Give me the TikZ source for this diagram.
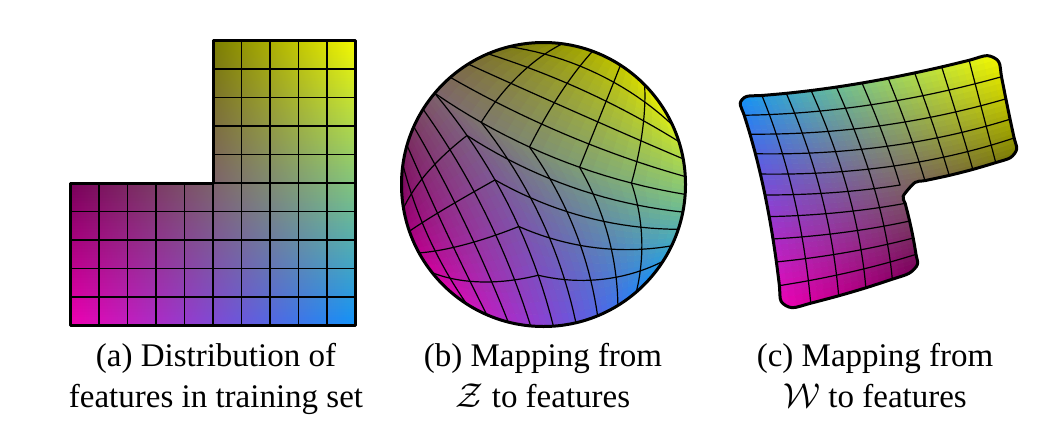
\documentclass[tikz,border=0pt]{standalone}
\usepackage{fontspec}
\setmainfont{Liberation Serif}
\tikzset{
  gridline/.style={black, line width=0.6pt, line join=round, line cap=round},
  outline/.style={black, line width=1.5pt, line join=round},
  caption/.style={font=\fontsize{16.5}{20}\selectfont, anchor=base, inner sep=0pt},
}
% colour of feature point (u,v): bilinear between corners
\newcommand\setcol[3]{%
  \pgfmathsetmacro\colU{min(max(#1,0),1)}%
  \pgfmathsetmacro\colV{min(max(#2,0),1)}%
  \pgfmathsetmacro\colR{0.94*(1-\colU)*(1-\colV)+0.06*\colU*(1-\colV)+0.96*\colU*\colV}%
  \pgfmathsetmacro\colG{0.57*\colU*(1-\colV)+0.98*\colU*\colV}%
  \pgfmathsetmacro\colB{0.70*(1-\colU)*(1-\colV)+0.98*\colU*(1-\colV)}%
  \definecolor{#3}{rgb}{\colR,\colG,\colB}%
}
% ---- disk map: three Coons patches ----
\newcommand\arcpt[3]{\pgfmathsetmacro#2{543.5+142*cos(#1)}\pgfmathsetmacro#3{184.5-142*sin(#1)}}
\newcommand\bezOne[3]{% seam P1 -> G
  \pgfmathsetmacro#2{(1-(#1))^2*553.41+2*(#1)*(1-(#1))*520.8+(#1)^2*434.72}%
  \pgfmathsetmacro#3{(1-(#1))^2*326.15+2*(#1)*(1-(#1))*196.2+(#1)^2*93.22}}
\newcommand\bezTwo[3]{% seam G -> P2
  \pgfmathsetmacro#2{(1-(#1))^2*434.72+2*(#1)*(1-(#1))*548.7+(#1)^2*685.15}%
  \pgfmathsetmacro#3{(1-(#1))^2*93.22+2*(#1)*(1-(#1))*171.6+(#1)^2*194.41}}
\newcommand\mapB[2]{%
  \ifdim #2pt>0.5pt
    \pgfmathsetmacro\kS{2*(#1)-1}\pgfmathsetmacro\kT{2*(#2)-1}%
    \bezTwo{\kS}{\bX}{\bY}%
    \arcpt{95-63*\kS}{\tX}{\tY}%
    \arcpt{140-45*\kT}{\lX}{\lY}%
    \arcpt{-4+36*\kT}{\rX}{\rY}%
    \def\pAx{434.72}\def\pAy{93.22}\def\pBx{685.15}\def\pBy{194.41}%
    \def\pCx{531.12}\def\pCy{43.04}\def\pDx{663.92}\def\pDy{109.25}%
  \else\ifdim #1pt<0.5pt
    \pgfmathsetmacro\kS{2*(#1)}\pgfmathsetmacro\kT{2*(#2)}%
    \arcpt{-132+46*\kS}{\bX}{\bY}%
    \arcpt{180-40*\kS}{\tX}{\tY}%
    \arcpt{228-48*\kT}{\lX}{\lY}%
    \bezOne{\kT}{\rX}{\rY}%
    \def\pAx{448.48}\def\pAy{290.03}\def\pBx{553.41}\def\pBy{326.15}%
    \def\pCx{401.5}\def\pCy{184.5}\def\pDx{434.72}\def\pDy{93.22}%
  \else
    \pgfmathsetmacro\kS{2*(#1)-1}\pgfmathsetmacro\kT{2*(#2)}%
    \arcpt{-86+46*\kS}{\bX}{\bY}%
    \bezTwo{\kS}{\tX}{\tY}%
    \bezOne{\kT}{\lX}{\lY}%
    \arcpt{-40+36*\kT}{\rX}{\rY}%
    \def\pAx{553.41}\def\pAy{326.15}\def\pBx{652.28}\def\pBy{275.78}%
    \def\pCx{434.72}\def\pCy{93.22}\def\pDx{685.15}\def\pDy{194.41}%
  \fi\fi
  \pgfmathsetmacro\mx{(1-\kT)*\bX+\kT*\tX+(1-\kS)*\lX+\kS*\rX-((1-\kS)*(1-\kT)*\pAx+\kS*(1-\kT)*\pBx+(1-\kS)*\kT*\pCx+\kS*\kT*\pDx)}%
  \pgfmathsetmacro\my{(1-\kT)*\bY+\kT*\tY+(1-\kS)*\lY+\kS*\rY-((1-\kS)*(1-\kT)*\pAy+\kS*(1-\kT)*\pBy+(1-\kS)*\kT*\pCy+\kS*\kT*\pDy)}%
}
% ---- W map: quadratic patch ----
\newcommand\mapC[2]{%
  \pgfmathsetmacro\mV{#2}\pgfmathsetmacro\mW{1-(#1)}%
  \pgfmathsetmacro\qA{2*(\mV-0.5)*(\mV-1)}%
  \pgfmathsetmacro\qB{-4*\mV*(\mV-1)}%
  \pgfmathsetmacro\qC{2*\mV*(\mV-0.5)}%
  \pgfmathsetmacro\rA{2*(\mW-0.5)*(\mW-1)}%
  \pgfmathsetmacro\rB{-4*\mW*(\mW-1)}%
  \pgfmathsetmacro\rC{2*\mW*(\mW-0.5)}%
  \pgfmathsetmacro\mx{\qA*(\rA*738+\rB*765+\rC*782)+\qB*(\rA*862+\rB*900+\rC*918)+\qC*(\rA*997+\rB*1018+\rC*1035)}%
  \pgfmathsetmacro\my{\qA*(\rA*97+\rB*195+\rC*310)+\qB*(\rA*83+\rB*185+\rC*270)+\qC*(\rA*53+\rB*155+\rC*215)}%
}
% #3 = 1: skip the missing quadrant, 0: compute the full square
\newcommand\warppoints[3]{%
  \foreach \i in {0,...,40}{%
    \foreach \j in {0,...,40}{%
      \def\inside{1}\ifnum#3=1 \ifnum\i<20 \ifnum\j>20 \def\inside{0}\fi\fi\fi
      \ifnum\inside=1
        \pgfmathsetmacro\pu{\i/40}\pgfmathsetmacro\pv{\j/40}%
        #2{\pu}{\pv}%
        \coordinate (#1-\i-\j) at (\mx,\my);%
      \fi
    }%
  }%
}
\newcommand\warpfill[2]{%
  \foreach \i in {0,...,39}{%
    \foreach \j in {0,...,39}{%
      \def\inside{1}\ifnum#2=1 \ifnum\i<20 \ifnum\j>19 \def\inside{0}\fi\fi\fi
      \ifnum\inside=1
        \pgfmathtruncatemacro\iN{\i+1}\pgfmathtruncatemacro\jN{\j+1}%
        \setcol{(\i+0.5)/40}{(\j+0.5)/40}{cc}%
        \filldraw[fill=cc,draw=cc,line width=0.35pt] (#1-\i-\j) -- (#1-\iN-\j) -- (#1-\iN-\jN) -- (#1-\i-\jN) -- cycle;%
      \fi
    }%
  }%
}
\newcommand\warpgrid[1]{%
  \foreach \k in {1,...,9}{%
    \pgfmathtruncatemacro\gi{4*\k}%
    \ifnum\k<6 \def\gmax{20}\else\def\gmax{40}\fi
    \draw[gridline] (#1-\gi-0) \foreach \j in {1,...,\gmax}{ -- (#1-\gi-\j)};%
    \ifnum\k<5 \def\gmin{0}\else\def\gmin{20}\fi
    \pgfmathtruncatemacro\gminp{\gmin+1}%
    \draw[gridline] (#1-\gmin-\gi) \foreach \i in {\gminp,...,40}{ -- (#1-\i-\gi)};%
  }%
}
\begin{document}
\begin{tikzpicture}[x=0.5pt,y=-0.5pt]
\useasboundingbox (0,0) rectangle (1058,428);
% ---------------- (a) ----------------
\foreach \j in {0,...,99}{%
  \pgfmathsetmacro\vc{(\j+0.5)/100}%
  \ifnum\j<50 \def\stripU{0}\else\def\stripU{0.5}\fi
  \setcol{\stripU}{\vc}{cl}\setcol{1}{\vc}{cr}%
  \pgfmathsetmacro\xl{70.5+285*\stripU}%
  \pgfmathsetmacro\yb{325.5-2.85*\j}%
  \pgfmathsetmacro\yt{325.5-2.85*(\j+1)-0.5}%
  \shade[left color=cl,right color=cr] (\xl,\yb) rectangle (355.5,\yt);
}
\foreach \k in {1,...,9}{%
  \pgfmathsetmacro\gx{70.5+28.5*\k}%
  \ifnum\k<6 \def\gy{183}\else\def\gy{40.5}\fi
  \draw[gridline] (\gx,325.5) -- (\gx,\gy);
  \pgfmathsetmacro\hy{325.5-28.5*\k}%
  \ifnum\k<5 \def\hx{70.5}\else\def\hx{213}\fi
  \draw[gridline] (\hx,\hy) -- (355.5,\hy);
}
\draw[outline] (70.5,325.5) -- (355.5,325.5) -- (355.5,40.5) -- (213,40.5) -- (213,183) -- (70.5,183) -- cycle;
% ---------------- (b) ----------------
\coordinate (bc) at (543.5,184.5);
\warppoints{b}{\mapB}{1}
\begin{scope}
  \clip (bc) circle[radius=142];
  \warpfill{b}{1}
  \warpgrid{b}
\end{scope}
\draw[outline] (bc) circle[radius=142];
% ---------------- (c) ----------------
\warppoints{c}{\mapC}{0}
\gdef\cblist{}
\foreach \bu/\bv [count=\bk] in {0.035/0,0.1/0,0.2/0,0.3/0,0.4/0,0.5/0,0.6/0,0.7/0,0.8/0,0.9/0,0.965/0,
  1/0.035,1/0.1,1/0.2,1/0.3,1/0.4,1/0.5,1/0.6,1/0.7,1/0.8,1/0.9,1/0.965,
  0.965/1,0.9/1,0.8/1,0.7/1,0.6/1,0.535/1,
  0.5/0.965,0.5/0.9,0.5/0.8,0.5/0.7,0.5/0.6,0.5/0.56,
  0.44/0.5,0.4/0.5,0.3/0.5,0.2/0.5,0.1/0.5,0.035/0.5,
  0/0.465,0/0.4,0/0.3,0/0.2,0/0.1,0/0.035}{%
  \mapC{\bu}{\bv}%
  \coordinate (cb-\bk) at (\mx,\my);%
  \xdef\cblist{\cblist (cb-\bk)}%
}
\edef\cpath{plot[smooth cycle,tension=0.5] coordinates {\cblist}}
\begin{scope}
  \edef\tmp{\noexpand\clip \cpath;}\tmp
  \warpfill{c}{0}
  \warpgrid{c}
\end{scope}
\edef\tmp{\noexpand\draw[outline] \cpath;}\tmp
% ---------------- captions ----------------
\node[caption] (capa1) at (216,366) {(a) Distribution of};
\node[caption] (capa2) at (216,407) {features in training set};
\node[caption] (capb1) at (543,366) {(b) Mapping from};
\node[caption] (capb2) at (543,407) {$\mathcal{Z}$ to features};
\node[caption] (capc1) at (875,366) {(c) Mapping from};
\node[caption] (capc2) at (875,407) {$\mathcal{W}$ to features};
\end{tikzpicture}
\end{document}
